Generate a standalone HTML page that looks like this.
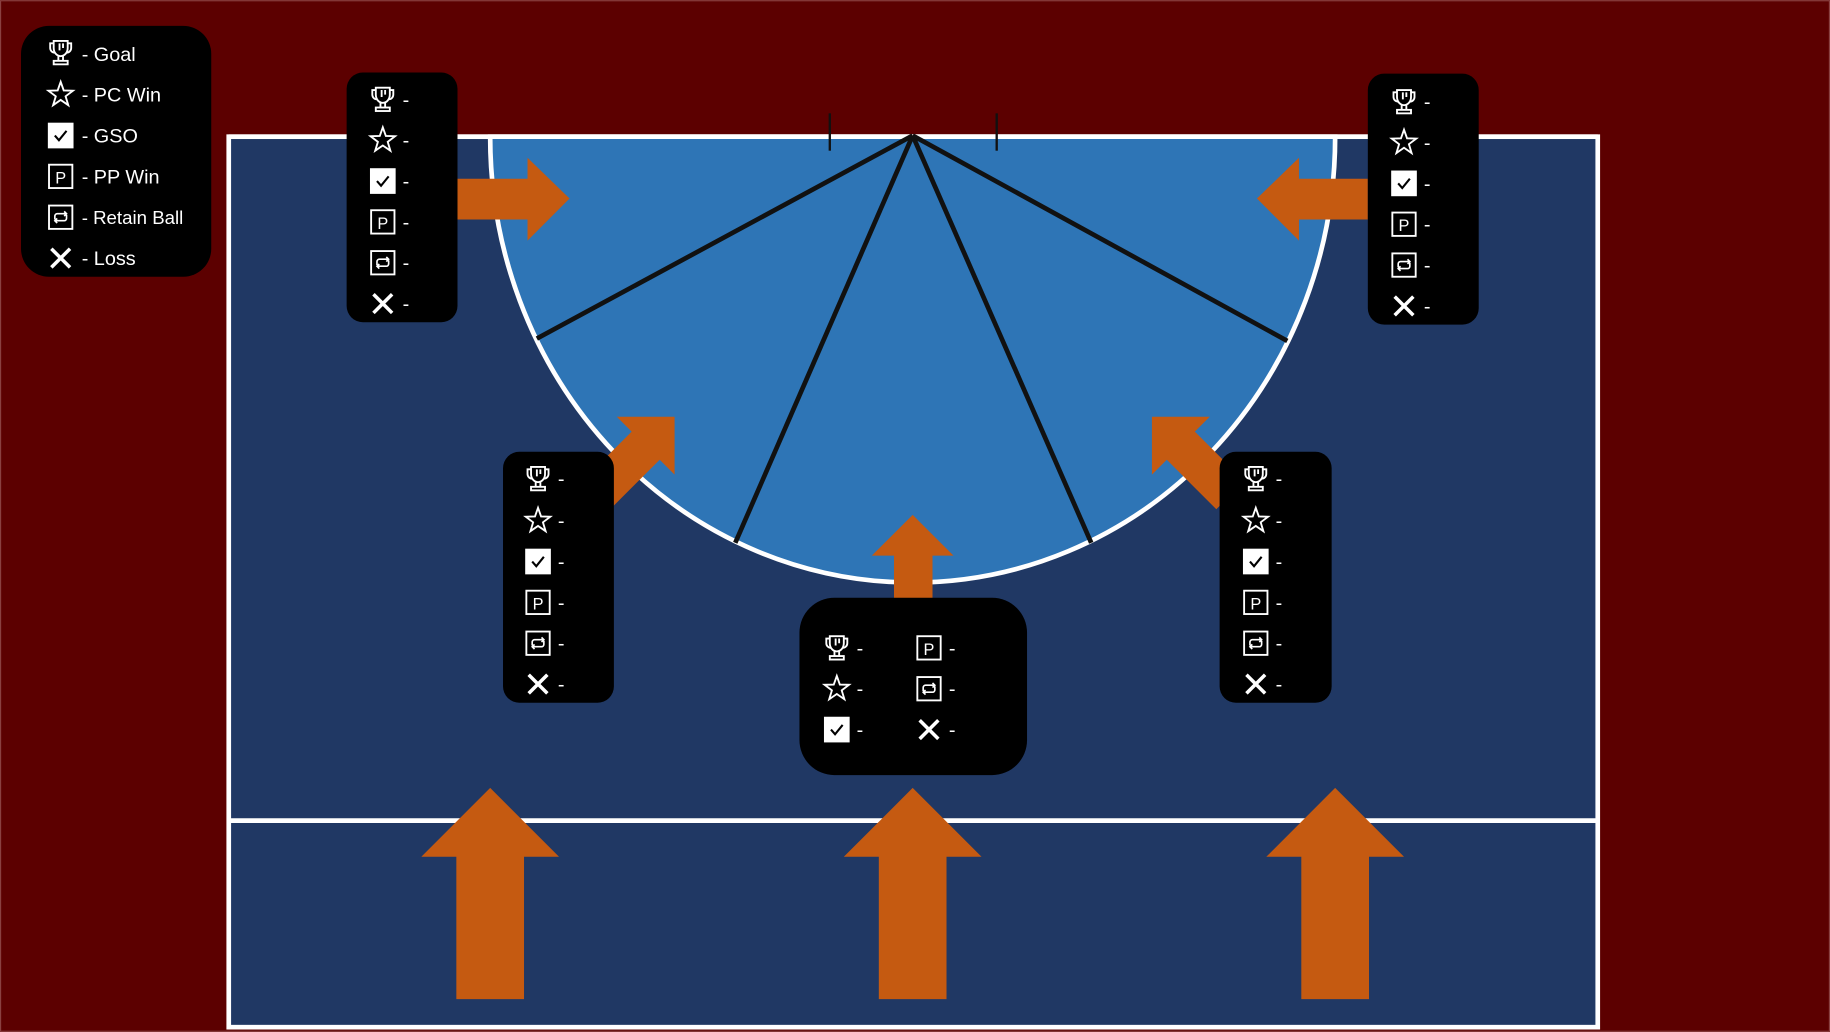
<!DOCTYPE html>
<html><head><meta charset="utf-8"><style>
html,body{margin:0;padding:0;background:#5c0000;}
svg{display:block;}
text{font-family:"Liberation Sans",sans-serif;fill:#fff;}
</style></head><body>
<svg width="1830" height="1032" viewBox="0 0 1568 884" xmlns="http://www.w3.org/2000/svg">
<defs>
<g id="tro" fill="none" stroke="#fff" stroke-width="1.6"><path d="M-6,-10 H6 V-4 A6,7 0 0 1 -6,-4 Z"/><path d="M-6,-8 H-9 V-4 A4,4 0 0 0 -5,0 M6,-8 H9 V-4 A4,4 0 0 1 5,0"/><path d="M-2,3 V7 M2,3 V7"/><rect x="-6" y="7" width="12" height="3"/><path d="M-1,-8 V-2 M2,-8 V-4"/></g>
<polygon id="sta" fill="none" stroke="#fff" stroke-width="1.6" points="0,-11 2.6,-3.6 10.5,-3.4 4.2,1.4 6.5,9 0,4.5 -6.5,9 -4.2,1.4 -10.5,-3.4 -2.6,-3.6"/>
<g id="chk"><rect x="-11" y="-11" width="22" height="22" fill="#fff"/><path d="M-5,0 L-1.5,4 L5,-4" fill="none" stroke="#000" stroke-width="1.8"/></g>
<rect id="box" x="-10" y="-10" width="20" height="20" fill="none" stroke="#fff" stroke-width="1.6"/>
<g id="ret"><rect x="-10" y="-10" width="20" height="20" fill="none" stroke="#fff" stroke-width="1.6"/><path d="M-5,2 V-1 A2,2 0 0 1 -3,-3 H5 M3,-5 L5,-3 L3,-1 M5,-2 V1 A2,2 0 0 1 3,3 H-5 M-3,1 L-5,3 L-3,5" fill="none" stroke="#fff" stroke-width="1.4"/></g>
<path id="xx" d="M-8,-8 L8,8 M8,-8 L-8,8" stroke="#fff" stroke-width="3"/>
<polygon id="arr" fill="#c55a11" points="0,0 35,35 17,35 17,95 -17,95 -17,35 -35,35"/>
</defs>
<rect x="0" y="0" width="1568" height="884" fill="#5c0000"/>
<rect x="0.5" y="0.5" width="1567" height="883" fill="none" stroke="#8a4040" stroke-width="1"/>
<rect x="196" y="117" width="1173" height="763" fill="#203864" stroke="#fff" stroke-width="4"/>
<line x1="196" y1="703" x2="1369" y2="703" stroke="#fff" stroke-width="4"/>
<path d="M420,117 A362,382 0 0 0 1144,117 Z" fill="#2e75b6" stroke="#fff" stroke-width="4"/>
<line x1="196" y1="117" x2="1369" y2="117" stroke="#fff" stroke-width="4"/>
<g stroke="#111" stroke-width="4"><line x1="782" y1="116" x2="460" y2="290"/><line x1="782" y1="116" x2="630" y2="465"/><line x1="782" y1="116" x2="935" y2="465"/><line x1="782" y1="116" x2="1103" y2="292"/></g>
<g stroke="#111" stroke-width="2"><line x1="711" y1="97" x2="711" y2="129"/><line x1="854" y1="97" x2="854" y2="129"/></g>
<g fill="#c55a11">
<polygon points="392,153 452,153 452,135 488,170 452,206 452,188 392,188"/>
<polygon points="1172,153 1113,153 1113,135 1077,170 1113,206 1113,188 1172,188"/>
<polygon points="782,441 817,476 799,476 799,520 766,520 766,476 747,476"/>
<polygon points="420,675 479,734 449,734 449,856 391,856 391,734 361,734"/>
<polygon points="782,675 841,734 811,734 811,856 753,856 753,734 723,734"/>
<polygon points="1144,675 1203,734 1173,734 1173,856 1115,856 1115,734 1085,734"/>
</g>
<use href="#arr" transform="translate(578,357) rotate(45)"/>
<use href="#arr" transform="translate(987,357) rotate(-45)"/>
<rect x="18" y="22" width="163" height="215" rx="24" fill="#000"/>
<use href="#tro" x="52" y="45"/><use href="#sta" x="52" y="81"/><use href="#chk" x="52" y="116"/><use href="#box" x="52" y="151"/><text x="52" y="157" font-size="14" text-anchor="middle">P</text><use href="#ret" x="52" y="186"/><use href="#xx" x="52" y="221"/>
<g font-size="17"><text x="70" y="52">- Goal</text><text x="70" y="87">- PC Win</text><text x="70" y="122">- GSO</text><text x="70" y="157">- PP Win</text><text x="70" y="192" font-size="16">- Retain Ball</text><text x="70" y="227">- Loss</text></g>
<rect x="297" y="62" width="95" height="214" rx="14" fill="#000"/>
<use href="#tro" x="328" y="85"/><use href="#sta" x="328" y="120"/><use href="#chk" x="328" y="155"/><use href="#box" x="328" y="190"/><text x="328" y="196" font-size="14" text-anchor="middle">P</text><use href="#ret" x="328" y="225"/><use href="#xx" x="328" y="260"/>
<g font-size="17"><text x="345" y="91">-</text><text x="345" y="126">-</text><text x="345" y="161">-</text><text x="345" y="196">-</text><text x="345" y="231">-</text><text x="345" y="266">-</text></g>
<rect x="1172" y="63" width="95" height="215" rx="14" fill="#000"/>
<use href="#tro" x="1203" y="87"/><use href="#sta" x="1203" y="122"/><use href="#chk" x="1203" y="157"/><use href="#box" x="1203" y="192"/><text x="1203" y="198" font-size="14" text-anchor="middle">P</text><use href="#ret" x="1203" y="227"/><use href="#xx" x="1203" y="262"/>
<g font-size="17"><text x="1220" y="93">-</text><text x="1220" y="128">-</text><text x="1220" y="163">-</text><text x="1220" y="198">-</text><text x="1220" y="233">-</text><text x="1220" y="268">-</text></g>
<rect x="431" y="387" width="95" height="215" rx="14" fill="#000"/>
<use href="#tro" x="461" y="410"/><use href="#sta" x="461" y="446"/><use href="#chk" x="461" y="481"/><use href="#box" x="461" y="516"/><text x="461" y="522" font-size="14" text-anchor="middle">P</text><use href="#ret" x="461" y="551"/><use href="#xx" x="461" y="586"/>
<g font-size="17"><text x="478" y="416">-</text><text x="478" y="452">-</text><text x="478" y="487">-</text><text x="478" y="522">-</text><text x="478" y="557">-</text><text x="478" y="592">-</text></g>
<rect x="1045" y="387" width="96" height="215" rx="14" fill="#000"/>
<use href="#tro" x="1076" y="410"/><use href="#sta" x="1076" y="446"/><use href="#chk" x="1076" y="481"/><use href="#box" x="1076" y="516"/><text x="1076" y="522" font-size="14" text-anchor="middle">P</text><use href="#ret" x="1076" y="551"/><use href="#xx" x="1076" y="586"/>
<g font-size="17"><text x="1093" y="416">-</text><text x="1093" y="452">-</text><text x="1093" y="487">-</text><text x="1093" y="522">-</text><text x="1093" y="557">-</text><text x="1093" y="592">-</text></g>
<rect x="685" y="512" width="195" height="152" rx="30" fill="#000"/>
<use href="#tro" x="717" y="555"/><use href="#sta" x="717" y="590"/><use href="#chk" x="717" y="625"/>
<use href="#box" x="796" y="555"/><text x="796" y="561" font-size="14" text-anchor="middle">P</text><use href="#ret" x="796" y="590"/><use href="#xx" x="796" y="625"/>
<g font-size="17"><text x="734" y="561">-</text><text x="734" y="596">-</text><text x="734" y="631">-</text><text x="813" y="561">-</text><text x="813" y="596">-</text><text x="813" y="631">-</text></g>
</svg>
</body></html>
